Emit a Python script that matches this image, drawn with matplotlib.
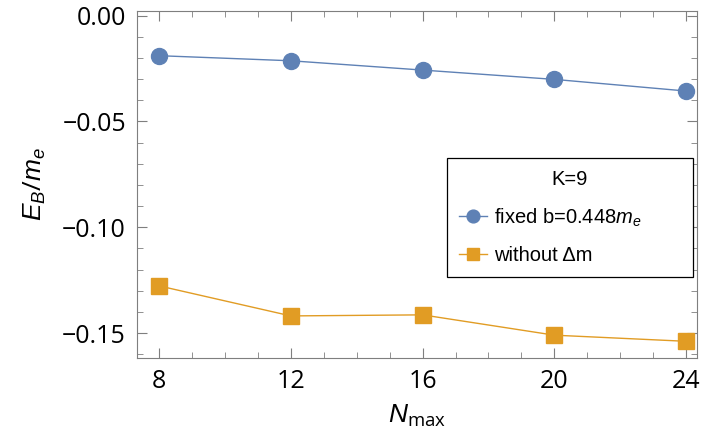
import matplotlib
matplotlib.use('Agg')
import matplotlib.pyplot as plt
from matplotlib.ticker import MultipleLocator

#%% Datos
n_max = [8, 12, 16, 20, 24]
e_fixed_b = [-0.0189, -0.0213, -0.0257, -0.0301, -0.0356]
e_without_dm = [-0.1277, -0.1419, -0.1414, -0.1510, -0.1539]

xticks = [8, 12, 16, 20, 24]
yticks = [0.00, -0.05, -0.10, -0.15]
ytick_labels = ['0.00', '\u22120.05', '\u22120.10', '\u22120.15']

label_fixed = r'fixed b=0.448$m_e$'
label_without = 'without \u0394m'
legend_title = 'K=9'

#%% Estilo
plt.rcParams['font.family'] = ['Open Sans', 'DejaVu Sans']
plt.rcParams['mathtext.fontset'] = 'custom'
plt.rcParams['mathtext.rm'] = 'Open Sans'
plt.rcParams['mathtext.it'] = 'Liberation Sans:italic'

blue = '#5E81B5'
orange = '#E19C24'
gray = '#7f7f7f'

fig = plt.figure(figsize=(7.04, 4.42), dpi=100)
ax = fig.add_axes([0.1946, 0.190, 0.7954, 0.785])

ax.plot(n_max, e_fixed_b, '-o', color=blue, lw=1.0, ms=11.5,
        label=label_fixed)
ax.plot(n_max, e_without_dm, '-s', color=orange, lw=1.0, ms=11,
        label=label_without)

ax.set_xlim(7.33, 24.33)
ax.set_ylim(-0.1618, 0.0022)
ax.set_xticks(xticks)
ax.set_yticks(yticks)
ax.set_yticklabels(ytick_labels)
ax.xaxis.set_minor_locator(MultipleLocator(1))
ax.yaxis.set_minor_locator(MultipleLocator(0.01))

ax.tick_params(which='both', direction='in', top=True, right=True,
               color=gray, labelsize=18, labelcolor='black')
ax.tick_params(which='major', length=7, width=0.8, pad=8)
ax.tick_params(which='minor', length=4, width=0.6)
for s in ax.spines.values():
    s.set_color(gray)
    s.set_linewidth(0.8)

ax.set_xlabel(r'$N_{\mathrm{max}}$', fontsize=19, labelpad=6)
ax.set_ylabel(r'$E_B/m_e$', fontsize=19, labelpad=10)

# Leyenda con fuente tipo Arial, caja ancha como en Mathematica
leg_font = {'family': 'Liberation Sans', 'size': 14.5}
leg = ax.legend(title=legend_title, loc='upper left', mode='expand',
                bbox_to_anchor=(0.5536, 0.2305, 0.439, 0.3455),
                borderaxespad=0,
                prop=leg_font, title_fontproperties=leg_font,
                frameon=True, fancybox=False, edgecolor='black',
                framealpha=1, borderpad=0.6, labelspacing=0.85,
                handlelength=1.4, handletextpad=0.35, markerscale=0.8)
leg.get_frame().set_linewidth(0.9)

fig.savefig('out.png', dpi=100)
